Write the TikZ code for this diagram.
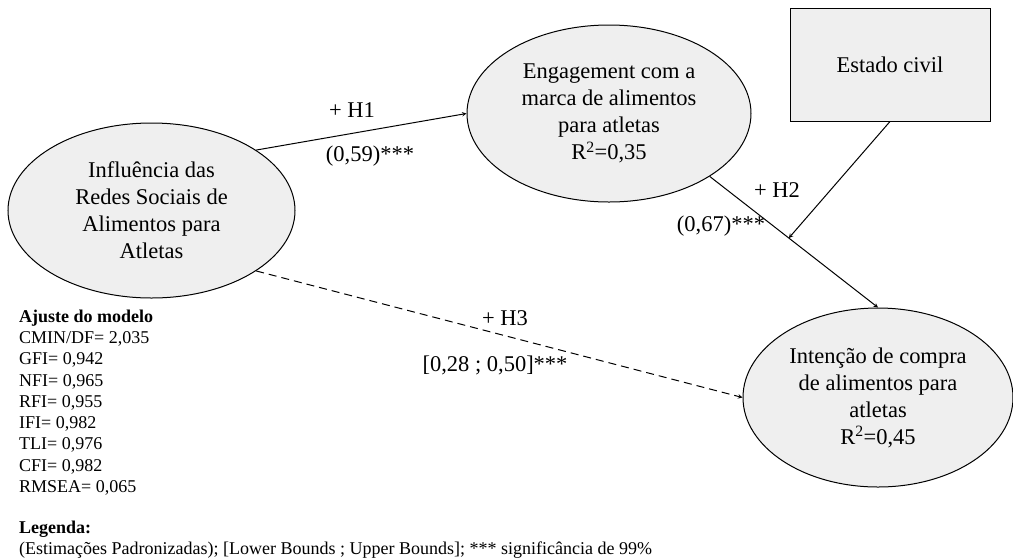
\documentclass[tikz,border=0pt]{standalone}
\usepackage{fontspec}
\setmainfont{Liberation Serif}
\usepackage{tikz}
\usetikzlibrary{shapes.geometric, arrows}
\definecolor{latentgray}{HTML}{EFEFEF}
\tikzstyle{latent} = [ellipse, draw=black, fill=latentgray, line width=1pt, inner sep=0pt, text centered, align=center, font=\fontsize{22.5}{27}\selectfont]
\tikzstyle{control} = [rectangle, draw=black, fill=latentgray, line width=1pt, minimum width=200pt, minimum height=113pt, font=\fontsize{22.5}{27}\selectfont]
\tikzstyle{coef} = [inner sep=0pt, font=\fontsize{22.5}{27}\selectfont]
\tikzstyle{note} = [inner sep=0pt, align=left, anchor=north west, font=\fontsize{18}{21.3}\selectfont]
\tikzstyle{arrow} = [line width=1pt,->,>=stealth]
\tikzstyle{dasharrow} = [arrow, dash pattern=on 8pt off 5pt]

\begin{document}
\begin{tikzpicture}[x=1pt, y=-1pt]
    \useasboundingbox (0,0) rectangle (1013,558);

    % Constructs
    \node (influencia) [latent, minimum width=287pt, minimum height=175pt] at (151.5,210.5) {Influência das\\Redes Sociais de\\Alimentos para\\Atletas};
    \node (engagement) [latent, minimum width=284pt, minimum height=177pt] at (609,113.5) {Engagement com a\\marca de alimentos\\para atletas\\R\textsuperscript{2}=0,35};
    \node (intencao) [latent, minimum width=270pt, minimum height=179pt] at (878,397.5) {Intenção de compra\\de alimentos para\\atletas\\R\textsuperscript{2}=0,45};
    \node (estado) [control] at (890,64.5) {Estado civil};

    % Arrows
    \draw [arrow] (influencia.30) -- (engagement.west);
    \draw [arrow] (engagement.-32) -- coordinate[pos=0.47] (moderacao) (intencao.north);
    \draw [arrow] (estado.south) -- (moderacao);
    \draw [dasharrow] (influencia.-30) -- (intencao.west);

    % Path labels
    \node (h1sign) [coef] at (352,110) {+ H1};
    \node (h1coef) [coef] at (370,156) {(0,59)***};
    \node (h2sign) [coef] at (777,190) {+ H2};
    \node (h2coef) [coef] at (721,226) {(0,67)***};
    \node (h3sign) [coef] at (505,318) {+ H3};
    \node (h3ci) [coef] at (495,365) {[0,28 ; 0,50]***};

    % Fit and legend
    \node (ajuste) [note] at (19,309.5) {\textbf{Ajuste do modelo}\\CMIN/DF= 2,035\\GFI= 0,942\\NFI= 0,965\\RFI= 0,955\\IFI= 0,982\\TLI= 0,976\\CFI= 0,982\\RMSEA= 0,065};
    \node (legenda) [note] at (19,520.5) {\textbf{Legenda:}\\(Estimações Padronizadas); [Lower Bounds ; Upper Bounds]; *** significância de 99\%};

\end{tikzpicture}
\end{document}
